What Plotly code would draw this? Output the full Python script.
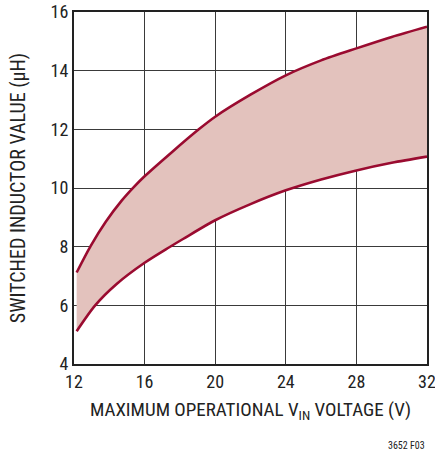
import plotly.graph_objects as go

upper_x = [12.15, 12.94, 13.8, 14.7, 15.4, 16.0, 17.56, 19.07, 20.0, 22.0, 24.0, 26.0, 28.0, 30.0, 32.0]
upper_y = [7.12, 8.02, 8.85, 9.57, 10.04, 10.4, 11.23, 12.0, 12.43, 13.18, 13.84, 14.35, 14.76, 15.15, 15.5]
lower_x = [12.15, 13.2, 14.4, 16.0, 17.4, 18.2, 20.0, 22.0, 24.0, 26.0, 28.0, 30.0, 32.0]
lower_y = [5.12, 6.0, 6.72, 7.45, 7.98, 8.27, 8.9, 9.45, 9.92, 10.29, 10.6, 10.86, 11.07]

x_ticks = [12, 16, 20, 24, 28, 32]
y_ticks = [4, 6, 8, 10, 12, 14, 16]

FONT = "Liberation Sans Narrow, Roboto Condensed, Arial Narrow, Liberation Sans, sans-serif"
LINE = "#9a0b30"
FILL = "#e3c2bd"

fig = go.Figure()
fig.add_trace(go.Scatter(x=lower_x, y=lower_y, mode="lines", line=dict(color=LINE, width=2.6, shape="spline", smoothing=0.8),
                         hoverinfo="skip", showlegend=False))
fig.add_trace(go.Scatter(x=upper_x, y=upper_y, mode="lines", line=dict(color=LINE, width=2.6, shape="spline", smoothing=0.8),
                         fill="tonexty", fillcolor=FILL, hoverinfo="skip", showlegend=False))

axis_common = dict(showgrid=True, gridcolor="#3a3a3a", gridwidth=1.2, showline=True, linecolor="#222222",
                   linewidth=2, mirror=True, ticks="", zeroline=False, layer="above traces", automargin=False,
                   ticklabeloverflow="allow",
                   tickfont=dict(family=FONT, size=18, color="#222222"))

fig.update_xaxes(range=[12, 32], tickvals=x_ticks, ticktext=[str(v) for v in x_ticks],
                 title=dict(text="MAXIMUM OPERATIONAL V<sub>IN</sub> VOLTAGE (V)",
                            font=dict(family=FONT, size=19, color="#222222"), standoff=12),
                 **axis_common)
fig.update_yaxes(range=[4, 16], tickvals=y_ticks, ticktext=[str(v) for v in y_ticks],
                 title=dict(text="SWITCHED INDUCTOR VALUE (µH)",
                            font=dict(family=FONT, size=20, color="#222222"), standoff=20),
                 **axis_common)

fig.add_annotation(text="3652 F03", xref="paper", yref="paper", x=1.0, y=-0.232, xanchor="right", yanchor="middle",
                   showarrow=False, font=dict(family=FONT, size=10, color="#222222"))

fig.update_layout(width=435, height=451, margin=dict(l=74, r=8, t=12, b=87),
                  paper_bgcolor="white", plot_bgcolor="white")

fig.write_html("out.html", config={"displayModeBar": False},
               post_script="document.body.style.margin='0';document.body.style.overflow='hidden';")
